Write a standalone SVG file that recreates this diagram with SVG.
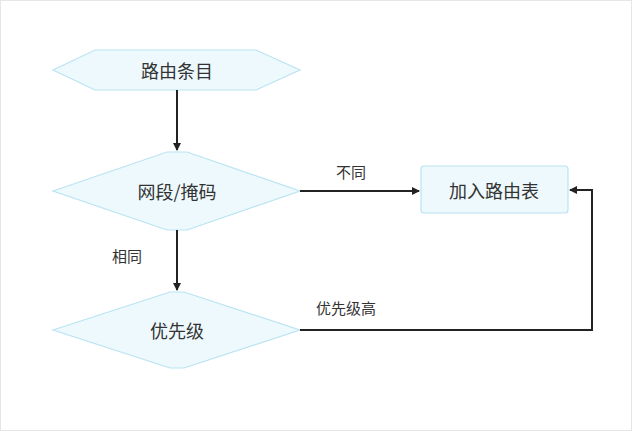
<svg xmlns="http://www.w3.org/2000/svg" width="632" height="431" viewBox="0 0 632 431">
<style>
.n{fill:#eef9fd;stroke:#b9e3f2;stroke-width:1.2}
.t{font-family:"Noto Sans CJK SC","Liberation Sans",sans-serif;fill:#333;text-anchor:middle;dominant-baseline:central}
.l{font-family:"Noto Sans CJK SC","Liberation Sans",sans-serif;fill:#333;font-size:15px}
.c{stroke:#222;stroke-width:2;fill:none}
</style>
<defs><marker id="a" markerWidth="8" markerHeight="8" refX="7" refY="4" orient="auto" markerUnits="userSpaceOnUse"><path d="M0,0L8,4L0,8Z" fill="#222"/></marker></defs>
<rect x="0.5" y="0.5" width="631" height="430" fill="#fff" stroke="#e6e6e6"/>
<g id="n1"><polygon class="n" points="53,70 95,50 256,50 300,70 256,90 95,90"/><text class="t" x="177" y="70" font-size="18">路由条目</text></g>
<g id="n2"><polygon class="n" points="53,191 167,152 187,152 300,191 187,230 167,230"/><text class="t" x="177" y="191" font-size="18">网段/掩码</text></g>
<g id="n3"><polygon class="n" points="53,330 170,292 184,292 300,330 184,368 170,368"/><text class="t" x="177" y="330" font-size="18">优先级</text></g>
<g id="n4"><rect class="n" x="421" y="166" width="147" height="47" rx="3"/><text class="t" x="494" y="190" font-size="18">加入路由表</text></g>
<g id="connectors">
<path class="c" d="M177,90V150" marker-end="url(#a)"/>
<path class="c" d="M177,230V290" marker-end="url(#a)"/>
<path class="c" d="M300,191H419" marker-end="url(#a)"/>
<path class="c" d="M300,330H592V190H570" marker-end="url(#a)"/>
<text class="l" x="336" y="178">不同</text>
<text class="l" x="112" y="262">相同</text>
<text class="l" x="316" y="314">优先级高</text>
</g>
</svg>
